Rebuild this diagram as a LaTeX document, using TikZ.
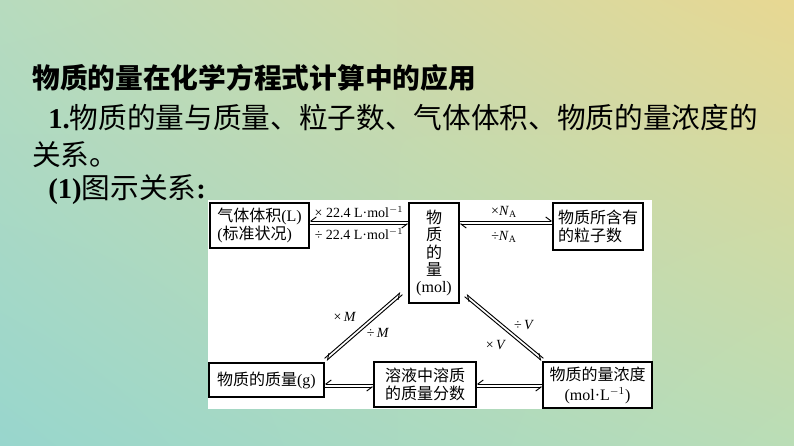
\documentclass[tikz,border=0pt]{standalone}
\usepackage{fontspec}
\setmainfont{Liberation Serif}
\newfontfamily\cjk{Noto Sans CJK SC}
\newcommand{\zh}[1]{{\cjk #1}}
\usetikzlibrary{arrows.meta,calc,shadings}
\definecolor{bgUL}{RGB}{183,219,190}
\definecolor{bgUR}{RGB}{232,216,146}
\definecolor{bgLL}{RGB}{152,214,205}
\definecolor{bgLR}{RGB}{186,221,182}

\begin{document}
\begin{tikzpicture}[x=0.75pt,y=0.75pt,yscale=-1,xscale=1,
  box/.style={draw,line width=0.8pt,fill=white,inner sep=2pt,font=\fontsize{12}{14}\selectfont},
  lbl/.style={inner sep=0.75pt,font=\fontsize{10.5}{12}\selectfont},
  slide/.style={anchor=west,inner sep=0pt,font=\fontsize{21.5}{25}\selectfont},
  harpL/.style={line width=0.7pt,-{Straight Barb[harpoon,length=4pt,width=6pt]}},
  harpR/.style={line width=0.7pt,-{Straight Barb[harpoon,swap,length=4pt,width=6pt]}}]
\useasboundingbox (0,0) rectangle (794,446);
%Background
\shade[upper left=bgUL,upper right=bgUR,lower left=bgLL,lower right=bgLR] (0,0) rectangle (794,446);
%Slide text
\node[slide,font=\fontsize{20.8}{25}\selectfont] (title) at (32,78) {\cjk\bfseries 物质的量在化学方程式计算中的应用};
\node[slide] (line1) at (48,118) {\textbf{1.}\zh{物质的量与质量、粒子数、气体体积、物质的量浓度的}};
\node[slide] (line2) at (32,155) {\zh{关系。}};
\node[slide] (line3) at (48,190) {\textbf{(1)}\zh{图示关系}\textbf{:}};
%Panel
\fill[white] (208,200) rectangle (652,409);

%Boxes
\node[box,minimum width=74.25pt,minimum height=33.75pt,align=left] (gas) at (259.5,225.5) {\zh{气体体积}(L)\\(\zh{标准状况})};
\node[box,minimum width=37.5pt,minimum height=75pt,align=center,font=\fontsize{12}{13}\selectfont] (mol) at (434,253) {\zh{物}\\\zh{质}\\\zh{的}\\\zh{量}\\(mol)};
\node[box,minimum width=67.5pt,minimum height=35.25pt,align=left,font=\fontsize{12}{13.5}\selectfont] (part) at (598,226.5) {\zh{物质所含有}\\\zh{的粒子数}};
\node[box,minimum width=86.25pt,minimum height=25.5pt] (mass) at (266.5,380) {\zh{物质的质量}(g)};
\node[box,minimum width=76.5pt,minimum height=33.75pt,align=center,font=\fontsize{12}{13}\selectfont] (sol) at (425,384.5) {\zh{溶液中溶质}\\\zh{的质量分数}};
\node[box,minimum width=81.75pt,minimum height=34.5pt,align=center,font=\fontsize{12}{15}\selectfont] (conc) at (597.5,385) {\zh{物质的量浓度}\\(mol·L$^{-1}$)};

%Gas <-> mol
\coordinate (g1) at ($(gas.east)+(0,-3)$);
\coordinate (m1) at (g1 -| mol.west);
\draw[harpR] ($(m1)+(0,-1.5)$) -- ($(g1)+(0,-1.5)$);
\draw[harpR] ($(g1)+(0,1.5)$) -- ($(m1)+(0,1.5)$);
%Mol <-> particles
\coordinate (m2) at (g1 -| mol.east);
\coordinate (p2) at (g1 -| part.west);
\draw[harpL] ($(m2)+(0,-1.5)$) -- ($(p2)+(0,-1.5)$);
\draw[harpL] ($(p2)+(0,1.5)$) -- ($(m2)+(0,1.5)$);
%Mass <-> solution
\coordinate (s1) at ($(sol.west)+(0,1)$);
\coordinate (a1) at (s1 -| mass.east);
\draw[harpR] ($(s1)+(0,-1.5)$) -- ($(a1)+(0,-1.5)$);
\draw[harpR] ($(a1)+(0,1.5)$) -- ($(s1)+(0,1.5)$);
%Solution <-> concentration
\coordinate (s2) at ($(sol.east)+(0,1)$);
\coordinate (c2) at (s2 -| conc.west);
\draw[harpR] ($(c2)+(0,-1.5)$) -- ($(s2)+(0,-1.5)$);
\draw[harpR] ($(s2)+(0,1.5)$) -- ($(c2)+(0,1.5)$);
%Mass <-> mol
\coordinate (d1) at ($(mass.north east)+(1,-3)$);
\coordinate (d2) at ($(mol.south west)+(-7,-10)$);
\draw[harpR] ($(d2)!1.1pt!-90:(d1)$) -- ($(d1)!1.1pt!90:(d2)$);
\draw[harpR] ($(d1)!1.1pt!-90:(d2)$) -- ($(d2)!1.1pt!90:(d1)$);
%Mol <-> concentration
\coordinate (e1) at ($(mol.south east)+(6,-8)$);
\coordinate (e2) at ($(conc.north west)+(0,-2)$);
\draw[harpL] ($(e1)!1.1pt!90:(e2)$) -- ($(e2)!1.1pt!-90:(e1)$);
\draw[harpL] ($(e2)!1.1pt!90:(e1)$) -- ($(e1)!1.1pt!-90:(e2)$);

%Labels
\node[lbl] (t1) at (359,212) {× 22.4 L·mol$^{-1}$};
\node[lbl] (t2) at (359,234) {÷ 22.4 L·mol$^{-1}$};
\node[lbl] (t3) at (504,212) {×\textit{N}\textsubscript{A}};
\node[lbl] (t4) at (504,237) {÷\textit{N}\textsubscript{A}};
\node[lbl] (t5) at (345,317) {×\,\textit{M}};
\node[lbl] (t6) at (378,333) {÷\,\textit{M}};
\node[lbl] (t7) at (524,325) {÷\,\textit{V}};
\node[lbl] (t8) at (496,345) {×\,\textit{V}};
\end{tikzpicture}
\end{document}
